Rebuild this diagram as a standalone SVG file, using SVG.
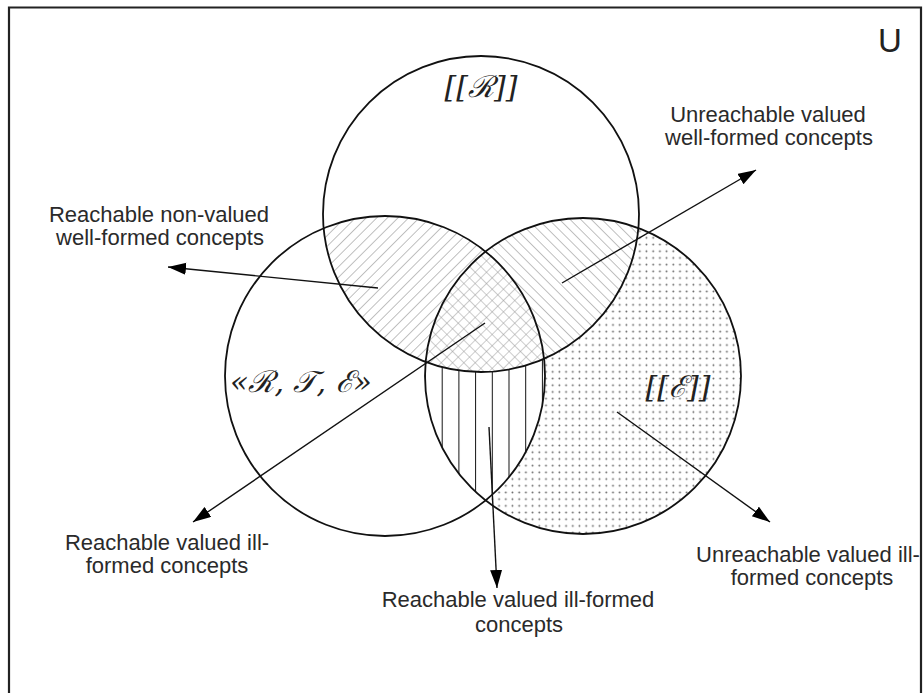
<svg xmlns="http://www.w3.org/2000/svg" width="923" height="693" viewBox="0 0 923 693">
<style>
.lbl{font-family:"Liberation Sans",Arial,sans-serif;font-size:22px;fill:#2a2a2a;text-anchor:middle}
.set{font-family:"DejaVu Serif","Liberation Serif",serif;font-style:italic;font-size:30px;fill:#222;text-anchor:middle}
.outline{fill:none;stroke:#111;stroke-width:1.8}
.arrow{stroke:#111;stroke-width:1.4;fill:none;marker-end:url(#ah)}
</style>
<defs>
<marker id="ah" markerUnits="userSpaceOnUse" markerWidth="20" markerHeight="14" refX="18" refY="6" orient="auto">
<path d="M0,0 L18,6 L0,12 z" fill="#000"/>
</marker>
<pattern id="hA" patternUnits="userSpaceOnUse" width="7.5" height="7.5" patternTransform="rotate(45)">
<line x1="0" y1="0" x2="0" y2="7.5" stroke="#808080" stroke-width="1"/>
</pattern>
<pattern id="hB" patternUnits="userSpaceOnUse" width="7.5" height="7.5" patternTransform="rotate(-45)">
<line x1="0" y1="0" x2="0" y2="7.5" stroke="#808080" stroke-width="1"/>
</pattern>
<pattern id="hX" patternUnits="userSpaceOnUse" width="8" height="8" patternTransform="rotate(45)">
<line x1="0" y1="0" x2="0" y2="8" stroke="#999" stroke-width="1"/>
<line x1="0" y1="0" x2="8" y2="0" stroke="#999" stroke-width="1"/>
</pattern>
<pattern id="hV" patternUnits="userSpaceOnUse" x="441.7" y="0" width="16.7" height="20">
<line x1="0" y1="0" x2="0" y2="20" stroke="#111" stroke-width="2"/>
</pattern>
<pattern id="dots" patternUnits="userSpaceOnUse" width="6.7" height="6.7">
<circle cx="3.3" cy="3.3" r="0.95" fill="#666"/>
</pattern>
<clipPath id="cTop"><circle cx="481" cy="214" r="158"/></clipPath>
<clipPath id="cLeft"><circle cx="385" cy="376" r="160"/></clipPath>
</defs>
<rect x="0" y="0" width="923" height="693" fill="#fff"/>
<path d="M9,693 V7.5 H921 V693" fill="none" stroke="#222" stroke-width="2.2"/>

<g id="fills">
<circle cx="583" cy="376" r="158" fill="url(#dots)"/>
<g clip-path="url(#cLeft)">
<circle cx="583" cy="376" r="158" fill="#fff"/>
<circle cx="583" cy="376" r="158" fill="url(#hV)"/>
</g>
<g clip-path="url(#cTop)">
<circle cx="583" cy="376" r="158" fill="#fff"/>
<circle cx="583" cy="376" r="158" fill="url(#hB)"/>
<circle cx="385" cy="376" r="160" fill="#fff"/>
<circle cx="385" cy="376" r="160" fill="url(#hA)"/>
<g clip-path="url(#cLeft)">
<circle cx="583" cy="376" r="158" fill="#fff"/>
<circle cx="583" cy="376" r="158" fill="url(#hX)"/>
</g>
</g>
</g>

<g id="node-R">
<circle class="outline" cx="481" cy="214" r="158"/>
<text class="set" x="481" y="97">[[ℛ]]</text>
</g>
<g id="node-RTE">
<circle class="outline" cx="385" cy="376" r="160"/>
<text class="set" x="301" y="392">«ℛ, &#x1D4AF;, ℰ»</text>
</g>
<g id="node-E">
<circle class="outline" cx="583" cy="376" r="158"/>
<text class="set" x="678" y="397">[[ℰ]]</text>
</g>

<g id="connectors">
<line class="arrow" x1="378" y1="288" x2="168" y2="267"/>
<line class="arrow" x1="562" y1="283" x2="756" y2="170"/>
<line class="arrow" x1="485" y1="323" x2="193" y2="522"/>
<line class="arrow" x1="489" y1="427" x2="497" y2="588"/>
<line class="arrow" x1="617" y1="412" x2="770" y2="522"/>
</g>

<g id="labels">
<text x="890" y="52" style="font-family:'Liberation Sans',Arial,sans-serif;font-size:33px;fill:#222;text-anchor:middle">U</text>
<text class="lbl" x="159" y="222">Reachable non-valued</text>
<text class="lbl" x="160" y="245">well-formed concepts</text>
<text class="lbl" x="768" y="122">Unreachable valued</text>
<text class="lbl" x="769" y="145">well-formed concepts</text>
<text class="lbl" x="167" y="550">Reachable valued ill-</text>
<text class="lbl" x="167" y="573">formed concepts</text>
<text class="lbl" x="518" y="607">Reachable valued ill-formed</text>
<text class="lbl" x="519" y="632">concepts</text>
<text class="lbl" x="808" y="562">Unreachable valued ill-</text>
<text class="lbl" x="812" y="585">formed concepts</text>
</g>
</svg>
